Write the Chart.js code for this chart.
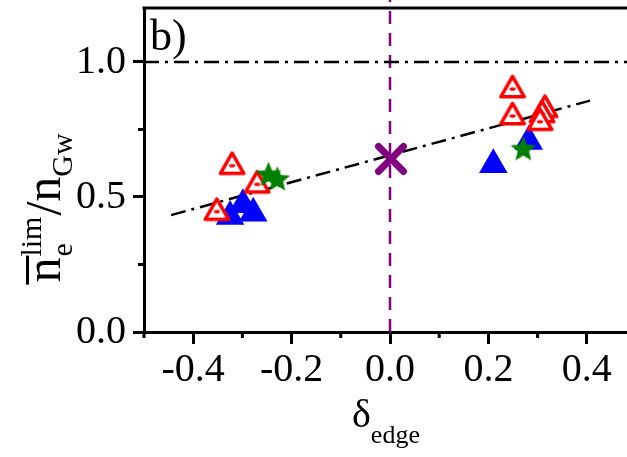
<!DOCTYPE html>
<html><head><meta charset="utf-8">
<script src="https://cdn.jsdelivr.net/npm/chart.js@4.4.0/dist/chart.umd.min.js"></script>
<style>
html,body{margin:0;padding:0;background:#fff;overflow:hidden;}
#wrap{width:627px;height:457px;overflow:hidden;position:relative;background:#fff;}
#c{position:absolute;left:0;top:0;}
</style></head><body>
<div id="wrap"><canvas id="c" width="640" height="457"></canvas></div>
<script>
// ---- data ----
const xTicks = [-0.4, -0.2, 0.0, 0.2, 0.4];
const xMinorTicks = [-0.5, -0.3, -0.1, 0.1, 0.3];
const yTicks = [0.0, 0.5, 1.0];
const yMinorTicks = [0.25, 0.75];
const redX = [-0.321, -0.270, -0.352, 0.249, 0.249, 0.315, 0.309, 0.305];
const redY = [0.616, 0.547, 0.446, 0.900, 0.800, 0.827, 0.808, 0.779];
const blueX = [-0.325, -0.299, -0.278, 0.210, 0.282];
const blueY = [0.428, 0.471, 0.440, 0.619, 0.706];
const greenX = [-0.247, -0.229, 0.271];
const greenY = [0.581, 0.564, 0.676];
const crossX = [0.002];
const crossY = [0.641];
const fitX = [-0.445, 0.4065];
const fitY = [0.433, 0.857];
const refX = [-0.5, 0.5];
const refY = [1.0, 1.0];
const vX = [0.0, 0.0];
const vY = [0.0, 1.23];

const pts = (xs, ys) => xs.map((x, i) => ({x: x, y: ys[i]}));
const SERIF = "'Liberation Serif', 'Times New Roman', serif";

function makeRedTri() {
  const c = document.createElement('canvas'); c.width = 32; c.height = 32;
  const g = c.getContext('2d');
  const cx = 16, hw = 11.75, ya = 3.45, yb = ya + hw * Math.sqrt(3);
  g.beginPath(); g.moveTo(cx, ya); g.lineTo(cx + hw, yb); g.lineTo(cx - hw, yb); g.closePath();
  g.fillStyle = '#fff'; g.fill();
  g.lineJoin = 'round'; g.lineWidth = 3.5; g.strokeStyle = '#ff0000'; g.stroke();
  g.beginPath(); g.ellipse(16, 16, 3, 1.8, 0, 0, Math.PI * 2); g.fillStyle = '#ff0000'; g.fill();
  return c;
}
function makeStar() {
  const c = document.createElement('canvas'); c.width = 32; c.height = 32;
  const g = c.getContext('2d');
  const R = 13.5, r = 6.0;
  g.beginPath();
  for (let k = 0; k < 10; k++) {
    const ang = -Math.PI / 2 + k * Math.PI / 5;
    const rr = k % 2 === 0 ? R : r;
    const px = 16 + rr * Math.cos(ang), py = 16 + rr * Math.sin(ang);
    if (k === 0) g.moveTo(px, py); else g.lineTo(px, py);
  }
  g.closePath(); g.fillStyle = '#008000'; g.fill();
  return c;
}
function makeCross() {
  const c = document.createElement('canvas'); c.width = 40; c.height = 40;
  const g = c.getContext('2d');
  const a = 12.5;
  g.strokeStyle = '#800080'; g.lineWidth = 7; g.lineCap = 'round';
  g.beginPath(); g.moveTo(20 - a, 20 - a); g.lineTo(20 + a, 20 + a);
  g.moveTo(20 + a, 20 - a); g.lineTo(20 - a, 20 + a); g.stroke();
  return c;
}

const deco = {
  id: 'deco',
  beforeDatasetsDraw(chart) {
    const {ctx, chartArea: a} = chart;
    ctx.save();
    ctx.strokeStyle = '#000'; ctx.lineWidth = 3;
    ctx.beginPath(); ctx.moveTo(a.left - 1.5, a.top); ctx.lineTo(a.right + 10, a.top); ctx.stroke();
    ctx.restore();
  },
  afterDraw(chart) {
    const {ctx, chartArea: a} = chart;
    const xs = chart.scales.x, ys = chart.scales.y;
    ctx.save();
    ctx.strokeStyle = '#000'; ctx.lineWidth = 3;
    ctx.beginPath();
    xMinorTicks.forEach(v => { const p = xs.getPixelForValue(v); ctx.moveTo(p, a.bottom); ctx.lineTo(p, a.bottom + 6); });
    yMinorTicks.forEach(v => { const p = ys.getPixelForValue(v); ctx.moveTo(a.left - 6, p); ctx.lineTo(a.left, p); });
    ctx.stroke();

    ctx.fillStyle = '#000';
    ctx.textBaseline = 'alphabetic'; ctx.textAlign = 'left';
    // panel label
    ctx.font = '44px ' + SERIF;
    ctx.fillText('b)', 150, 50);
    // x title
    ctx.font = '40px ' + SERIF;
    ctx.fillText('δ', 352, 427);
    const dW = ctx.measureText('δ').width;
    ctx.font = '26px ' + SERIF;
    ctx.fillText('edge', 352 + dW, 443);

    // y title (rotated)
    const main = '50px ' + SERIF, sub = '30px ' + SERIF;
    ctx.font = main; const nW = ctx.measureText('n').width; const snW = ctx.measureText('/n').width;
    ctx.font = sub; const eW = ctx.measureText('e').width; const limW = ctx.measureText('lim').width; const gwW = ctx.measureText('Gw').width;
    const total = nW + Math.max(eW, limW) + 2 + snW + gwW;
    const cy = 208;
    ctx.translate(60, cy + total / 2);
    ctx.rotate(-Math.PI / 2);
    let pos = 0;
    ctx.font = main; ctx.fillText('n', pos, 0);
    ctx.fillRect(pos - 2, -34, nW + 4, 3);
    pos += nW + 1;
    ctx.font = sub; ctx.fillText('e', pos, 12); ctx.fillText('lim', pos, -19);
    pos += Math.max(eW, limW) + 1;
    ctx.font = main; ctx.fillText('/n', pos, 0);
    pos += snW;
    ctx.font = sub; ctx.fillText('Gw', pos, 12);
    ctx.restore();
  }
};

new Chart(document.getElementById('c'), {
  type: 'scatter',
  data: {
    datasets: [
      {label: 'X', data: pts(crossX, crossY), order: 0, pointStyle: makeCross(), pointRadius: 16, showLine: false},
      {label: 'star', data: pts(greenX, greenY), order: 1, pointStyle: makeStar(), pointRadius: 13, showLine: false},
      {label: 'red', data: pts(redX, redY), order: 2, pointStyle: makeRedTri(), pointRadius: 14, showLine: false},
      {label: 'blue', data: pts(blueX, blueY), order: 3, pointStyle: 'triangle', pointRadius: 14.5,
        backgroundColor: '#0000ff', borderColor: '#0000ff', borderWidth: 2, showLine: false},
      {label: 'fit', data: pts(fitX, fitY), order: 4, showLine: true, pointRadius: 0,
        borderColor: '#000', borderWidth: 2.5, borderDash: [15, 6, 3, 6]},
      {label: 'ref', data: pts(refX, refY), order: 5, showLine: true, pointRadius: 0,
        borderColor: '#000', borderWidth: 2.5, borderDash: [15, 6, 3, 6]},
      {label: 'v', data: pts(vX, vY), order: 6, showLine: true, pointRadius: 0, clip: false,
        borderColor: '#800080', borderWidth: 2.5, borderDash: [13, 9]}
    ]
  },
  options: {
    responsive: false, animation: false, devicePixelRatio: 1,
    layout: {autoPadding: false, padding: {left: 0, right: 4, top: 8, bottom: 0}},
    plugins: {legend: {display: false}, tooltip: {enabled: false}},
    scales: {
      x: {
        type: 'linear', min: -0.5, max: 0.5,
        afterFit: s => { s.height = 125; s.paddingLeft = 0; s.paddingRight = 0; },
        afterBuildTicks: s => { s.ticks = xTicks.map(v => ({value: v})); },
        ticks: {font: {family: SERIF, size: 40}, color: '#000', padding: 2, maxRotation: 0, autoSkip: false,
          callback: v => v.toFixed(1)},
        grid: {drawOnChartArea: false, drawTicks: true, tickLength: 12, tickWidth: 3, tickColor: '#000'},
        border: {display: true, width: 3, color: '#000'}
      },
      y: {
        type: 'linear', min: 0, max: 1.2,
        afterFit: s => { s.width = 144; s.paddingTop = 0; s.paddingBottom = 0; },
        afterBuildTicks: s => { s.ticks = yTicks.map(v => ({value: v})); },
        ticks: {font: {family: SERIF, size: 40}, color: '#000', padding: 7, autoSkip: false,
          callback: v => v.toFixed(1)},
        grid: {drawOnChartArea: false, drawTicks: true, tickLength: 11, tickWidth: 3, tickColor: '#000'},
        border: {display: true, width: 3, color: '#000'}
      }
    }
  },
  plugins: [deco]
});
</script>
</body></html>
